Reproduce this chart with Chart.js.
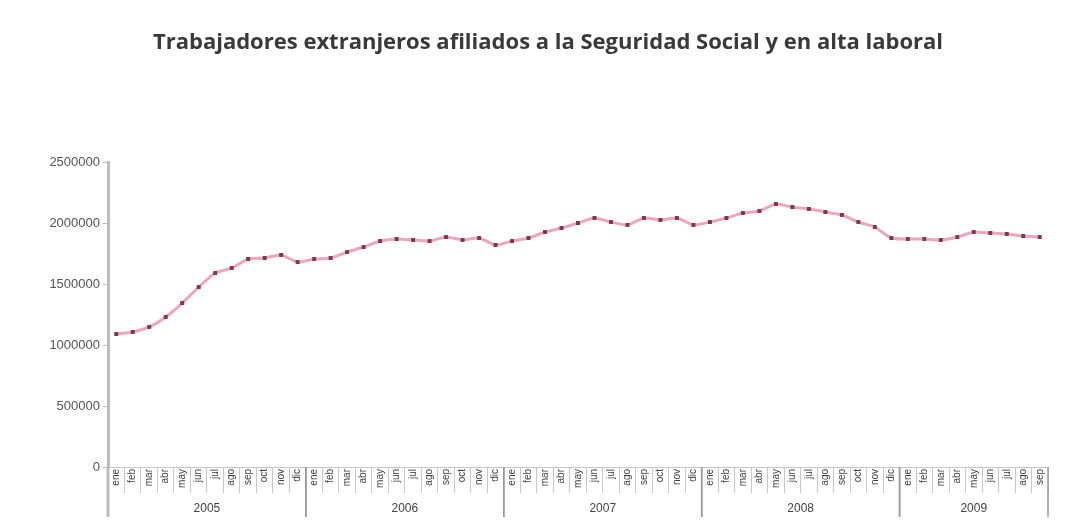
<!DOCTYPE html>
<html>
<head>
<meta charset="utf-8">
<script src="https://cdn.jsdelivr.net/npm/chart.js@4/dist/chart.umd.min.js"></script>
<style>
  html, body { margin: 0; padding: 0; background: #ffffff; }
  #wrap { width: 1078px; height: 532px; position: relative; }
</style>
</head>
<body>
<div id="wrap"><canvas id="c" width="1078" height="532"></canvas></div>
<script>
const chartTitle = 'Trabajadores extranjeros afiliados a la Seguridad Social y en alta laboral';
const monthNames = ['ene','feb','mar','abr','may','jun','jul','ago','sep','oct','nov','dic'];
const years = ['2005','2006','2007','2008','2009'];
const monthsPerYear = [12, 12, 12, 12, 9];
const yTicks = [0, 500000, 1000000, 1500000, 2000000, 2500000];
const workers2005 = [1090000, 1107000, 1148000, 1230000, 1344000, 1475000, 1590000, 1631000, 1705000, 1713000, 1738000, 1680000];
const workers2006 = [1705000, 1713000, 1762000, 1803000, 1852000, 1869000, 1861000, 1852000, 1885000, 1861000, 1877000, 1820000];
const workers2007 = [1852000, 1877000, 1926000, 1959000, 2000000, 2041000, 2008000, 1984000, 2041000, 2025000, 2041000, 1984000];
const workers2008 = [2008000, 2041000, 2082000, 2098000, 2156000, 2131000, 2115000, 2090000, 2066000, 2008000, 1967000, 1877000];
const workers2009 = [1869000, 1869000, 1861000, 1885000, 1926000, 1918000, 1910000, 1893000, 1885000];

const labels = [];
years.forEach((y, i) => { for (let m = 0; m < monthsPerYear[i]; m++) labels.push(monthNames[m]); });
const values = [].concat(workers2005, workers2006, workers2007, workers2008, workers2009);

const yearAxisPlugin = {
  id: 'yearAxis',
  afterDraw(chart) {
    const xs = chart.scales.x;
    const area = chart.chartArea;
    const ctx = chart.ctx;
    const half = (xs.getPixelForValue(1) - xs.getPixelForValue(0)) / 2;
    ctx.save();
    let start = 0;
    years.forEach((yr, i) => {
      const end = start + monthsPerYear[i] - 1;
      const left = xs.getPixelForValue(start) - half;
      const right = xs.getPixelForValue(end) + half;
      [left, right].forEach((px, k) => {
        if (i === 0 && k === 0) {
          ctx.strokeStyle = '#bdbdbd'; ctx.lineWidth = 3;
        } else {
          ctx.strokeStyle = '#9a9a9a'; ctx.lineWidth = 1.5;
        }
        ctx.beginPath();
        ctx.moveTo(px, area.bottom);
        ctx.lineTo(px, area.bottom + 50);
        ctx.stroke();
      });
      ctx.fillStyle = '#444444';
      ctx.font = '12px "Liberation Sans", Arial, sans-serif';
      ctx.textAlign = 'center';
      ctx.textBaseline = 'middle';
      ctx.fillText(yr, (left + right) / 2, area.bottom + 42);
      start = end + 1;
    });
    ctx.restore();
  }
};

new Chart(document.getElementById('c'), {
  type: 'line',
  data: {
    labels: labels,
    datasets: [{
      label: 'Afiliados extranjeros',
      data: values,
      borderColor: 'rgba(236,150,175,0.85)',
      borderWidth: 3,
      tension: 0.2,
      pointStyle: 'rect',
      pointRadius: 2.8,
      pointBorderWidth: 0,
      pointBackgroundColor: '#7a3a50',
      pointBorderColor: '#7a3a50',
      fill: false
    }]
  },
  options: {
    responsive: false,
    animation: false,
    devicePixelRatio: 1,
    layout: { padding: { left: 48, right: 30, top: 0, bottom: 39 } },
    plugins: {
      legend: { display: false },
      tooltip: { enabled: false },
      title: {
        display: true,
        text: chartTitle,
        color: '#3a3a3a',
        font: { family: '"Open Sans", "Liberation Sans", sans-serif', size: 22, weight: 'bold' },
        padding: { top: 30, bottom: 105.6 }
      }
    },
    scales: {
      x: {
        type: 'category',
        offset: true,
        grid: { offset: true, drawOnChartArea: false, drawTicks: true, tickLength: 26, color: '#c8c8c8', lineWidth: 1 },
        border: { display: true, color: '#c8c8c8', width: 1 },
        ticks: {
          autoSkip: false, maxRotation: 90, minRotation: 90, padding: -24,
          color: '#404040',
          font: { family: '"Liberation Sans", Arial, sans-serif', size: 10 }
        },
        afterFit: s => { s.height = 26; }
      },
      y: {
        min: 0,
        max: 2500000,
        afterBuildTicks: s => { s.ticks = yTicks.map(v => ({ value: v })); },
        grid: { drawOnChartArea: false, drawTicks: true, tickLength: 5, color: '#bdbdbd' },
        border: { display: true, color: '#bdbdbd', width: 3 },
        ticks: {
          padding: 3,
          color: '#555555',
          font: { family: '"Liberation Sans", Arial, sans-serif', size: 13 },
          callback: v => String(v)
        },
        afterFit: s => { s.width = 60; }
      }
    }
  },
  plugins: [yearAxisPlugin]
});
</script>
</body>
</html>
